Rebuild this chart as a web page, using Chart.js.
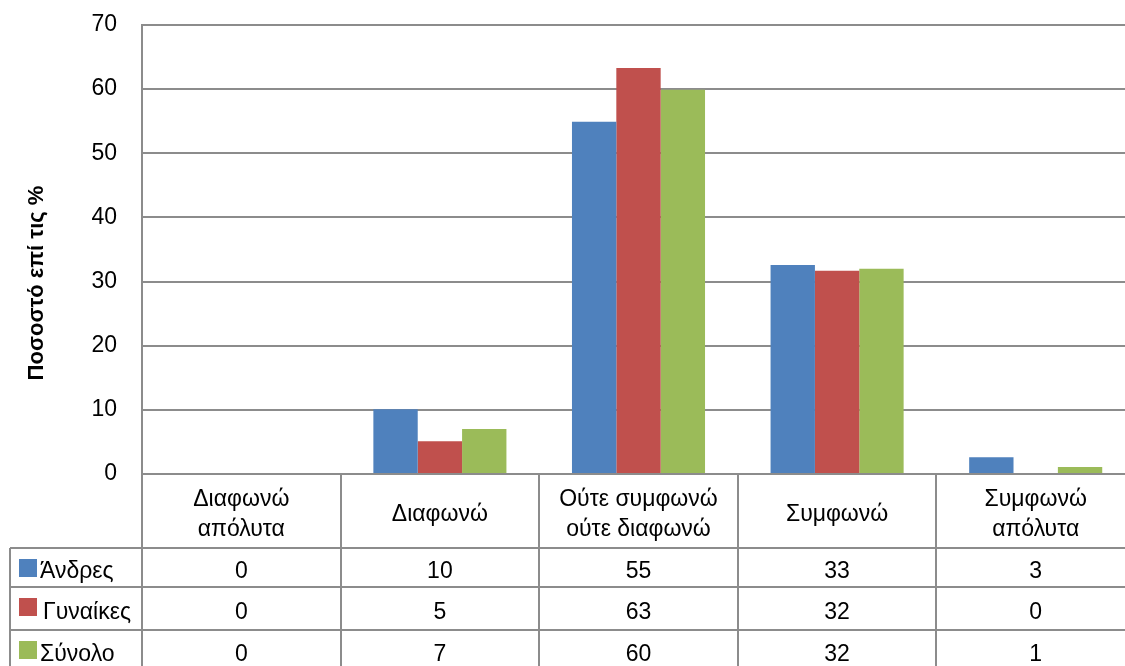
<!DOCTYPE html>
<html>
<head>
<meta charset="utf-8">
<script src="https://cdn.jsdelivr.net/npm/chart.js@4/dist/chart.umd.min.js"></script>
<style>
  html, body { margin: 0; padding: 0; background: #ffffff; overflow: hidden; }
  #wrap { position: relative; width: 1140px; height: 666px; }
</style>
</head>
<body>
<div id="wrap"><canvas id="c"></canvas></div>
<script>
const categories = [
  ["Διαφωνώ", "απόλυτα"],
  ["Διαφωνώ"],
  ["Ούτε συμφωνώ", "ούτε διαφωνώ"],
  ["Συμφωνώ"],
  ["Συμφωνώ", "απόλυτα"]
];
const seriesNames = ["Άνδρες", "Γυναίκες", "Σύνολο"];
const andres   = [0, 10.1, 54.9, 32.6, 2.6];
const gynaikes = [0, 5.1, 63.3, 31.7, 0];
const synolo   = [0, 7.0, 59.9, 32.0, 1.1];
const tableAndres   = [0, 10, 55, 33, 3];
const tableGynaikes = [0, 5, 63, 32, 0];
const tableSynolo   = [0, 7, 60, 32, 1];
const yTicks = [0, 10, 20, 30, 40, 50, 60, 70];
const yTitle = "Ποσοστό επί τις %";

const colors = ["#4F81BD", "#C0504D", "#9BBB59"];
const lineColor = "#8c8c8c";
const FONT = "'Liberation Sans', Arial, sans-serif";
const FSIZE = 23;

const tablePlugin = {
  id: 'dataTable',
  afterDraw(chart) {
    const ctx = chart.ctx;
    const xs = chart.scales.x;
    const area = chart.chartArea;
    const n = categories.length;
    const colW = (area.right - area.left) / n;
    const headerBottom = xs.bottom;
    const rowTops = [headerBottom, headerBottom + 39, headerBottom + 82];
    const rowBottoms = [headerBottom + 39, headerBottom + 82, headerBottom + 124];
    const tableLeft = 10;
    const rows = [tableAndres, tableGynaikes, tableSynolo];
    ctx.save();
    ctx.strokeStyle = lineColor;
    ctx.lineWidth = 2;
    for (let i = 0; i <= n; i++) {
      const x = Math.round(area.left + i * colW);
      ctx.beginPath();
      ctx.moveTo(x, area.bottom);
      ctx.lineTo(x, 700);
      ctx.stroke();
    }
    ctx.beginPath();
    ctx.moveTo(tableLeft, headerBottom);
    ctx.lineTo(tableLeft, 700);
    ctx.stroke();
    for (let r = 0; r < rows.length; r++) {
      const y = Math.round(rowTops[r]);
      ctx.beginPath();
      ctx.moveTo(tableLeft, y);
      ctx.lineTo(area.right, y);
      ctx.stroke();
    }
    ctx.font = FSIZE + "px " + FONT;
    ctx.textBaseline = "middle";
    ctx.textAlign = "center";
    ctx.fillStyle = "#000000";
    const headCenter = (area.bottom + headerBottom) / 2 + 4;
    const lh = 30;
    for (let i = 0; i < n; i++) {
      const x = xs.getPixelForValue(i);
      const lines = categories[i];
      const start = headCenter - (lines.length - 1) * lh / 2;
      lines.forEach((t, k) => ctx.fillText(t, x, start + k * lh));
    }
    for (let r = 0; r < rows.length; r++) {
      const cy = (rowTops[r] + rowBottoms[r]) / 2 + 4;
      ctx.fillStyle = colors[r];
      ctx.fillRect(19, rowTops[r] + 11, 18, 18);
      ctx.fillStyle = "#000000";
      ctx.textAlign = "left";
      ctx.fillText(seriesNames[r], r === 1 ? 43 : 40, cy);
      ctx.textAlign = "center";
      for (let i = 0; i < n; i++) {
        const x = xs.getPixelForValue(i);
        ctx.fillText(String(rows[r][i]), x, cy);
      }
    }
    ctx.save();
    ctx.translate(37, 283);
    ctx.rotate(-Math.PI / 2);
    ctx.font = "bold 22px " + FONT;
    ctx.textAlign = "center";
    ctx.textBaseline = "middle";
    ctx.fillText(yTitle, 0, 0);
    ctx.restore();
    ctx.restore();
  }
};

new Chart(document.getElementById('c'), {
  type: 'bar',
  data: {
    labels: categories,
    datasets: [
      { label: seriesNames[0], data: andres, backgroundColor: colors[0] },
      { label: seriesNames[1], data: gynaikes, backgroundColor: colors[1] },
      { label: seriesNames[2], data: synolo, backgroundColor: colors[2] }
    ]
  },
  options: {
    responsive: true,
    maintainAspectRatio: false,
    animation: false,
    devicePixelRatio: 1,
    layout: { padding: { left: 0, right: 5, top: 25, bottom: 118 } },
    plugins: { legend: { display: false }, tooltip: { enabled: false } },
    datasets: { bar: { categoryPercentage: 0.67, barPercentage: 1.0 } },
    scales: {
      x: {
        grid: { display: false, drawTicks: false },
        border: { display: true, color: lineColor, width: 2 },
        ticks: { display: false },
        afterFit(scale) { scale.height = 74; scale.paddingLeft = 0; scale.paddingRight = 0; }
      },
      y: {
        min: 0, max: 70,
        afterBuildTicks(scale) { scale.ticks = yTicks.map(v => ({ value: v })); },
        grid: { color: lineColor, lineWidth: 2, drawTicks: false },
        border: { display: true, color: lineColor, width: 2 },
        ticks: {
          font: { family: FONT, size: FSIZE },
          color: "#000000",
          padding: 25
        },
        afterFit(scale) { scale.width = 142; scale.paddingTop = 0; scale.paddingBottom = 0; }
      }
    }
  },
  plugins: [tablePlugin]
});
</script>
</body>
</html>
